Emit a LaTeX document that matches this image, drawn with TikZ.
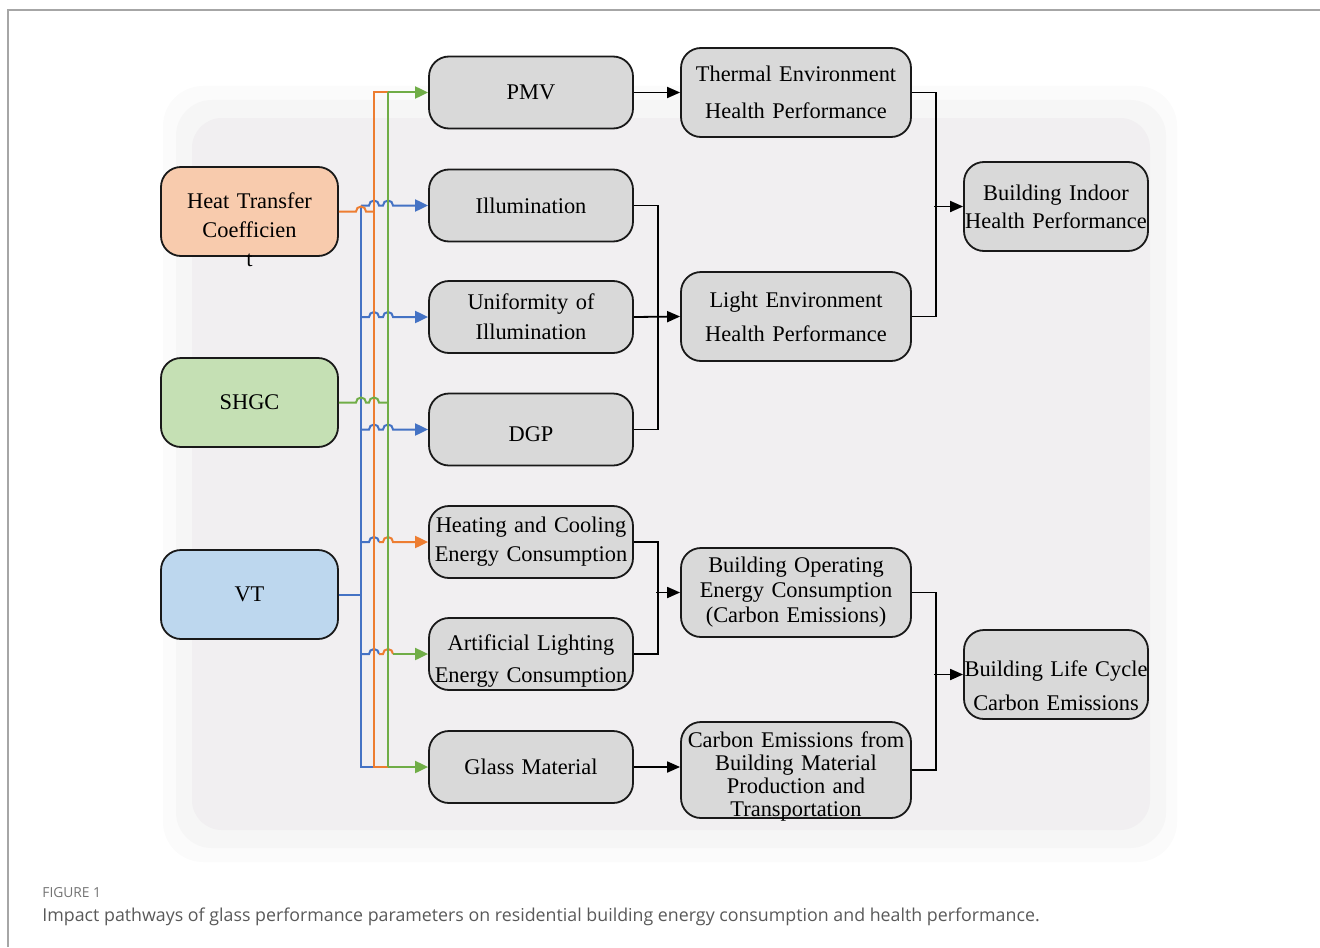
\documentclass[tikz,border=0pt]{standalone}
\usepackage{fontspec}
\setmainfont{Liberation Serif}
\newfontfamily\capfont{Open Sans}
\usetikzlibrary{arrows.meta,calc}
\definecolor{peach}{HTML}{F8CBAD}
\definecolor{leaf}{HTML}{C5E0B4}
\definecolor{sky}{HTML}{BDD7EE}
\definecolor{boxgray}{HTML}{D9D9D9}
\definecolor{lnblue}{HTML}{4472C4}
\definecolor{lnorange}{HTML}{ED7D31}
\definecolor{lngreen}{HTML}{70AD47}
\definecolor{bgpanel}{HTML}{F1EFF1}
\newcommand{\hopover}[1]{-- ($(#1)-(5,0)$) arc (180:360:5)}
\newcommand{\fs}[1]{\fontsize{11.2}{#1}\selectfont}

\begin{document}
\begin{tikzpicture}[x=0.5pt,y=-0.5pt,
  box/.style={draw=black!90,line width=0.9pt,rounded corners=10pt,fill=boxgray,
    align=center,inner sep=0pt,font=\fs{14}},
  inbox/.style={box,minimum width=88.5pt,minimum height=44.5pt,text width=88.5pt},
  midbox/.style={box,minimum width=102pt,minimum height=36pt,text width=102pt},
  outbox/.style={box,minimum width=115pt,minimum height=44.5pt,text width=115pt},
  endbox/.style={box,minimum width=92pt,minimum height=44.5pt,text width=92pt},
  ln/.style={line width=1pt},
  tip/.style={-{Triangle[length=6.5pt,width=6pt]}},
  blk/.style={line width=0.9pt,black},
  blkarr/.style={blk,-{Triangle[length=6.5pt,width=5.5pt]}}]
\useasboundingbox (0,0) rectangle (1320,947);
\draw[black!35,line width=0.8pt] (8,947) -- (8,10) -- (1320,10);
\fill[black!1.5,rounded corners=20pt] (163,86) rectangle (1177,862);
\fill[black!3.5,rounded corners=18pt] (176,100) rectangle (1166,848);
\fill[bgpanel,rounded corners=15pt] (192,118) rectangle (1150,830);

\node[inbox,fill=peach,font=\fs{14.5},text height=20.5pt,text depth=24pt] (htc) at (249.5,211.5) {Heat Transfer\\Coefficien\\t};
\node[inbox,fill=leaf] (shgc) at (249.5,402.5) {SHGC};
\node[inbox,fill=sky] (vt) at (249.5,594.5) {VT};

\node[midbox] (pmv) at (531,92.5) {PMV};
\node[midbox] (illum) at (531,205.5) {Illumination};
\node[midbox,font=\fs{15}] (unif) at (531,317) {Uniformity of\\Illumination};
\node[midbox,text height=24pt,text depth=12pt] (dgp) at (531,429.5) {DGP};
\node[midbox,font=\fs{14.5}] (heat) at (531,542) {Heating and Cooling\\Energy Consumption};
\node[midbox,font=\fs{16},text height=16pt,text depth=20pt] (art) at (531,654) {Artificial Lighting\\Energy Consumption};
\node[midbox] (glass) at (531,767) {Glass Material};

\node[outbox,font=\fs{18.5}] (thermal) at (796,92.5) {Thermal Environment\\Health Performance};
\node[outbox,font=\fs{17}] (light) at (796,316.5) {Light Environment\\Health Performance};
\node[outbox,font=\fs{12.5}] (oper) at (796,592.5) {Building Operating\\Energy Consumption\\(Carbon Emissions)};
\node[outbox,font=\fs{11.5},text height=12.5pt,text depth=35.5pt] (cmat) at (796,770) {Carbon Emissions from\\Building Material\\Production and\\Transportation};

\node[endbox] (indoor) at (1056,206.5) {Building Indoor\\Health Performance};
\node[endbox,font=\fs{17},text height=23pt,text depth=21.5pt] (life) at (1056,674.5) {Building Life Cycle\\Carbon Emissions};

\coordinate (bb) at (361,0);
\coordinate (ob) at (374,0);
\coordinate (gb) at (388,0);

\draw[ln,lnblue] (vt.east) -- (vt.east -| bb);
\draw[ln,lnblue] (illum.west -| bb) -- (glass.west -| bb) -- (glass.west -| ob);
\foreach \t in {illum,unif,dgp}
  \draw[ln,lnblue,tip] (\t.west -| bb) \hopover{\t.west -| ob} \hopover{\t.west -| gb} -- (\t.west);
\foreach \t in {heat,art}
  \draw[ln,lnblue] (\t.west -| bb) \hopover{\t.west -| ob};

\draw[ln,lnorange] (htc.east) \hopover{htc.east -| bb} -- (htc.east -| ob);
\draw[ln,lnorange] (pmv.west -| gb) -- (pmv.west -| ob) -- (glass.west -| ob) -- (glass.west -| gb);
\draw[ln,lnorange,tip] ($(heat.west -| ob)+(5,0)$) \hopover{heat.west -| gb} -- (heat.west);
\draw[ln,lnorange] ($(art.west -| ob)+(5,0)$) \hopover{art.west -| gb};

\draw[ln,lngreen] (shgc.east) \hopover{shgc.east -| bb} \hopover{shgc.east -| ob} -- (shgc.east -| gb);
\draw[ln,lngreen] (pmv.west -| gb) -- (glass.west -| gb);
\draw[ln,lngreen,tip] (pmv.west -| gb) -- (pmv.west);
\draw[ln,lngreen,tip] ($(art.west -| gb)+(5,0)$) -- (art.west);
\draw[ln,lngreen,tip] (glass.west -| gb) -- (glass.west);

\draw[blkarr] (pmv.east) -- (thermal.west);
\draw[blk] (illum.east) -| ($(dgp.east)+(24,0)$) -- (dgp.east);
\draw[blkarr] (unif.east) -- (light.west);
\draw[blk] (thermal.east) -| ($(light.east)+(24,0)$) -- (light.east);
\draw[blkarr] ($(indoor.west)+(-29,0)$) -- (indoor.west);
\draw[blk] (heat.east) -| ($(art.east)+(24,0)$) -- (art.east);
\draw[blkarr] ($(oper.west)+(-24,0)$) -- (oper.west);
\draw[blk] (oper.east) -| ($(cmat.east)+(24,0)$) -- (cmat.east);
\draw[blkarr] ($(life.west)+(-29,0)$) -- (life.west);
\draw[blkarr] (glass.east) -- (glass.east -| cmat.west);

\node[anchor=base west,inner sep=0pt,font=\capfont\fontsize{6.9}{8}\selectfont,text=black!55] (fig) at (42,897) {FIGURE 1};
\node[anchor=base west,inner sep=0pt,font=\capfont\fontsize{8.9}{10}\selectfont,text=black!65] (cap) at (42,921) {Impact pathways of glass performance parameters on residential building energy consumption and health performance.};
\end{tikzpicture}
\end{document}
